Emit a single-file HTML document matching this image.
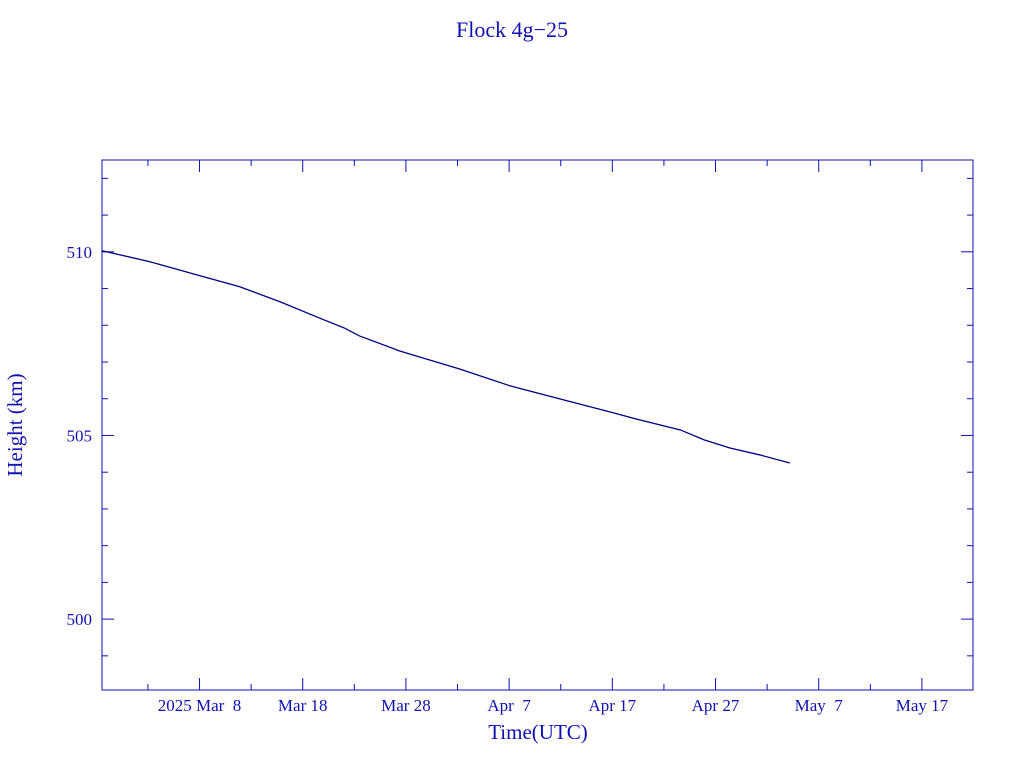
<!DOCTYPE html>
<html><head><meta charset="utf-8"><style>
body{margin:0;background:#fff;}
svg text{font-family:"Liberation Serif",serif;fill:#1010b0;}
</style></head><body>
<svg id="chart" width="1024" height="768" xmlns="http://www.w3.org/2000/svg">
<text x="512" y="37" text-anchor="middle" font-size="22">Flock 4g−25</text>
<rect x="102" y="160" width="871" height="530" fill="none" stroke="#1010b0" stroke-width="1"/>
<g id="axes"></g>
<text x="538" y="739" text-anchor="middle" font-size="21">Time(UTC)</text>
<text transform="translate(22,425) rotate(-90)" text-anchor="middle" font-size="21">Height (km)</text>
</svg>
<script>
// days relative to 2025 Mar 8
const days = [-9.45,-4.8,0.05,3.9,7.8,11.6,14.0,15.5,19.4,25.2,30.1,35.0,39.8,42.7,46.6,48.9,51.4,54.3,57.2];
const heights = [510.03,509.73,509.35,509.05,508.64,508.20,507.93,507.71,507.30,506.81,506.35,505.99,505.64,505.42,505.15,504.88,504.66,504.47,504.25];
const xTickDays = [0,10,20,30,40,50,60,70];
const xTickLabels = ["2025 Mar  8","Mar 18","Mar 28","Apr  7","Apr 17","Apr 27","May  7","May 17"];
const yTicks = [500,505,510];
const yMinor = [499,501,502,503,504,506,507,508,509,511,512];

const X0=102,X1=973,Y0=690,Y1=160;
const dMin=-9.45,dMax=74.95,hMin=498.07,hMax=512.5;
const sx=d=>X0+(d-dMin)/(dMax-dMin)*(X1-X0);
const sy=h=>Y0-(h-hMin)/(hMax-hMin)*(Y0-Y1);
const NS="http://www.w3.org/2000/svg";
const g=document.getElementById('axes');
function line(x1,y1,x2,y2,name){const l=document.createElementNS(NS,'line');
l.setAttribute('x1',x1);l.setAttribute('y1',y1);l.setAttribute('x2',x2);l.setAttribute('y2',y2);
l.setAttribute('stroke','#1010b0');


g.appendChild(l);}
function text(x,y,s,name,anchor){const t=document.createElementNS(NS,'text');
t.setAttribute('x',x);t.setAttribute('y',y);t.setAttribute('font-size','17');t.setAttribute('text-anchor',anchor);
t.setAttribute('xml:space','preserve');t.style.whiteSpace='pre';t.textContent=s;


g.appendChild(t);}
xTickDays.forEach((d,i)=>{const x=sx(d);line(x,Y0,x,Y0-12,'x-major-tick');line(x,Y1,x,Y1+12,'x-major-tick');
text(x,711,xTickLabels[i],'x-tick-label','middle');});
for(let d=-5;d<dMax;d+=10){const x=sx(d);line(x,Y0,x,Y0-6,'x-minor-tick');line(x,Y1,x,Y1+6,'x-minor-tick');}
yTicks.forEach(h=>{const y=sy(h);line(X0,y,X0+12,y,'y-major-tick');line(X1,y,X1-12,y,'y-major-tick');
text(92,y+6,String(h),'y-tick-label','end');});
yMinor.forEach(h=>{const y=sy(h);line(X0,y,X0+6,y,'y-minor-tick');line(X1,y,X1-6,y,'y-minor-tick');});
const p=document.createElementNS(NS,'polyline');
p.setAttribute('points',days.map((d,i)=>sx(d)+','+sy(heights[i])).join(' '));
p.setAttribute('fill','none');p.setAttribute('stroke','#000080');p.setAttribute('stroke-width','1.3');


g.appendChild(p);
</script>
</body></html>
